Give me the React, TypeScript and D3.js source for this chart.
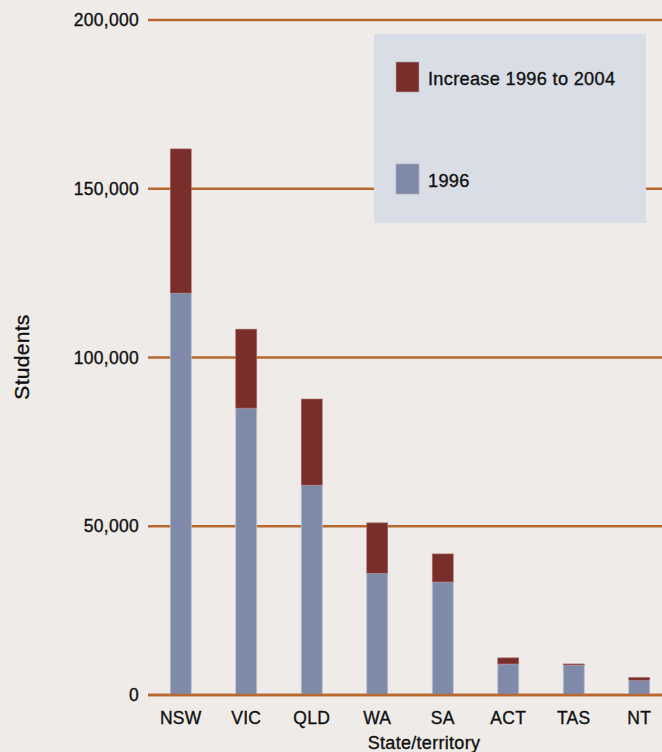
import { useEffect, useRef } from "react";
import * as d3 from "d3";

const states = ["NSW", "VIC", "QLD", "WA", "SA", "ACT", "TAS", "NT"];
const students1996 = [119100, 85000, 62200, 36100, 33500, 9200, 8900, 4400];
const increase = [42700, 23400, 25500, 14900, 8300, 1800, 300, 800];
const yTicks = [0, 50000, 100000, 150000, 200000];

function Chart() {
  const ref = useRef<SVGSVGElement>(null);

  useEffect(() => {
    document.body.style.margin = "0";
    const svg = d3.select(ref.current);
    svg.selectAll("*").remove();

    const width = 662;
    const height = 752;
    const font = "'Liberation Sans', Arial, sans-serif";
    const gridColor = "#b8682f";
    const ink = "#111";

    const x = d3.scaleBand().domain(states).range([148, 672]).paddingInner(0.68).paddingOuter(0.34);
    const y = d3.scaleLinear().domain([0, 200000]).range([695, 20]);

    // slightly heavier text than regular, like the reference's medium weight
    const styleText = (sel: any, size: number) =>
      sel
        .attr("font-family", font)
        .attr("font-size", size)
        .attr("fill", ink)
        .attr("stroke", ink)
        .attr("stroke-width", 0.35)
        .attr("letter-spacing", 0.3);

    svg.attr("width", width).attr("height", height);
    svg.append("rect").attr("width", width).attr("height", height).attr("fill", "#efebe8");

    // gridlines
    svg
      .append("g")
      .selectAll("line")
      .data(yTicks)
      .join("line")
      .attr("x1", 148)
      .attr("x2", width)
      .attr("y1", (d) => y(d))
      .attr("y2", (d) => y(d))
      .attr("stroke", gridColor)
      .attr("stroke-width", 2.5);

    styleText(
      svg
        .append("g")
        .selectAll("text")
        .data(yTicks)
        .join("text")
        .attr("x", 139)
        .attr("y", (d) => y(d))
        .attr("dy", "0.35em")
        .attr("text-anchor", "end")
        .text((d) => d3.format(",")(d)),
      17.5
    );

    // legend box
    const legend = svg.append("g");
    legend.append("rect").attr("x", 374).attr("y", 34).attr("width", 272).attr("height", 189).attr("fill", "#d9dde5");
    const items = [
      { label: "Increase 1996 to 2004", color: "#7a2e2b", y: 62 },
      { label: "1996", color: "#7f8aa8", y: 164 },
    ];
    items.forEach((it) => {
      legend
        .append("rect")
        .attr("x", 396)
        .attr("y", it.y)
        .attr("width", 23)
        .attr("height", 30)
        .attr("fill", it.color)
        .attr("stroke", "#b4a6ae")
        .attr("stroke-width", 0.6);
      styleText(
        legend
          .append("text")
          .attr("x", 428)
          .attr("y", it.y + 17)
          .attr("dy", "0.35em")
          .text(it.label),
        18.2
      );
    });

    // bars
    const bars = svg.append("g");
    bars
      .selectAll("rect.base")
      .data(states)
      .join("rect")
      .attr("class", "base")
      .attr("x", (d) => x(d)!)
      .attr("width", x.bandwidth())
      .attr("y", (d, i) => y(students1996[i]))
      .attr("height", (d, i) => y(0) - y(students1996[i]))
      .attr("fill", "#7f8aa8")
      .attr("stroke", "#b9bfcf")
      .attr("stroke-width", 0.8);
    bars
      .selectAll("rect.inc")
      .data(states)
      .join("rect")
      .attr("class", "inc")
      .attr("x", (d) => x(d)!)
      .attr("width", x.bandwidth())
      .attr("y", (d, i) => y(students1996[i] + increase[i]))
      .attr("height", (d, i) => y(students1996[i]) - y(students1996[i] + increase[i]))
      .attr("fill", "#7a2e2b")
      .attr("stroke", "#a86a68")
      .attr("stroke-width", 0.6);

    // redraw baseline on top
    svg
      .append("line")
      .attr("x1", 148)
      .attr("x2", width)
      .attr("y1", y(0))
      .attr("y2", y(0))
      .attr("stroke", gridColor)
      .attr("stroke-width", 2.5);

    styleText(
      svg
        .append("g")
        .selectAll("text")
        .data(states)
        .join("text")
        .attr("x", (d) => x(d)! + x.bandwidth() / 2)
        .attr("y", 717.5)
        .attr("dy", "0.35em")
        .attr("text-anchor", "middle")
        .text((d) => d),
      17.5
    );

    styleText(
      svg
        .append("text")
        .attr("x", 424)
        .attr("y", 742.5)
        .attr("dy", "0.35em")
        .attr("text-anchor", "middle")
        .text("State/territory"),
      18
    );

    styleText(
      svg
        .append("text")
        .attr("transform", "translate(22,357) rotate(-90)")
        .attr("dy", "0.35em")
        .attr("text-anchor", "middle")
        .text("Students"),
      21
    );
  }, []);

  return <svg ref={ref} style={{ display: "block" }}></svg>;
}

export default function App() {
  return <Chart />;
}
